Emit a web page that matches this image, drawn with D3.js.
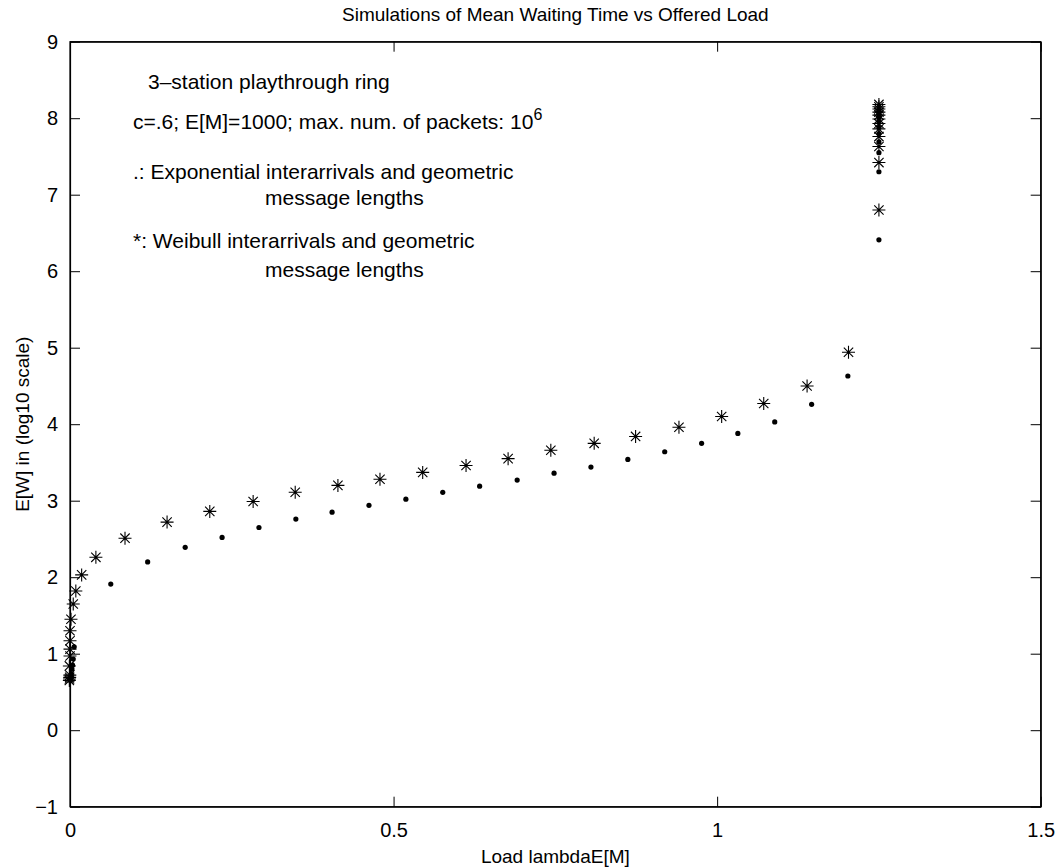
<!DOCTYPE html>
<html>
<head>
<meta charset="utf-8">
<script src="https://cdn.jsdelivr.net/npm/d3@7"></script>
<style>
  body { margin: 0; background: #fff; }
  text { font-family: Helvetica, Arial, "Liberation Sans", sans-serif; fill: #000; }
</style>
</head>
<body>
<script>
// chart size
var width = 1063;
var height = 867;
var margin = {top: 41.7, right: 22.3, bottom: 60.3, left: 70};

// exponential interarrivals (dots)
var expLoad = [0.0005, 0.001, 0.0015, 0.002, 0.003, 0.004, 0.005, 0.0065,
  0.063, 0.120, 0.178, 0.235, 0.292, 0.349, 0.405, 0.462, 0.519, 0.576, 0.633,
  0.691, 0.748, 0.805, 0.862, 0.919, 0.976, 1.032, 1.089, 1.146, 1.202,
  1.25, 1.25, 1.25, 1.25, 1.25, 1.25, 1.25, 1.25, 1.25, 1.25];
var expWait = [0.65, 0.67, 0.70, 0.74, 0.80, 0.85, 0.93, 1.09,
  1.91, 2.20, 2.39, 2.52, 2.65, 2.76, 2.85, 2.94, 3.02, 3.11, 3.19,
  3.27, 3.36, 3.44, 3.54, 3.64, 3.75, 3.88, 4.03, 4.26, 4.63,
  6.41, 7.30, 7.55, 7.69, 7.80, 7.88, 7.95, 8.01, 8.06, 8.10];

// weibull interarrivals (stars)
var weiLoad = [-0.001, -0.0008, -0.0005, -0.0003, -0.001, 0, 0, 0,
  0, 0.0015, 0.005, 0.009, 0.018,
  0.040, 0.085, 0.150, 0.216, 0.283, 0.348, 0.414, 0.479, 0.545, 0.612,
  0.677, 0.743, 0.810, 0.874, 0.941, 1.007, 1.072, 1.139, 1.203,
  1.25, 1.25, 1.25, 1.25, 1.25, 1.25, 1.25, 1.25, 1.25, 1.25, 1.25, 1.25];
var weiWait = [0.65, 0.67, 0.69, 0.72, 0.84, 0.97, 1.06, 1.17,
  1.30, 1.45, 1.65, 1.82, 2.03,
  2.26, 2.51, 2.72, 2.86, 2.99, 3.11, 3.20, 3.28, 3.37, 3.46,
  3.55, 3.66, 3.75, 3.84, 3.96, 4.10, 4.27, 4.50, 4.94,
  6.80, 7.42, 7.63, 7.76, 7.86, 7.93, 7.99, 8.04, 8.08, 8.12, 8.15, 8.18];

// ticks
var xTicks = [0, 0.5, 1, 1.5];
var yTicks = [-1, 0, 1, 2, 3, 4, 5, 6, 7, 8, 9];

var titleText = "Simulations of Mean Waiting Time vs Offered Load";
var xLabel = "Load lambdaE[M]";
var yLabel = "E[W] in (log10 scale)";

var svg = d3.select("body").append("svg")
  .attr("width", width)
  .attr("height", height);

var x = d3.scaleLinear().domain([0, 1.5]).range([margin.left, width - margin.right]);
var y = d3.scaleLinear().domain([-1, 9]).range([height - margin.bottom, margin.top]);

var fmt = function(d) { return d === -1 ? "\u22121" : String(d); };

// axes, ticks inward on all four sides
svg.append("g")
  .attr("transform", "translate(0," + y(-1) + ")")
  .call(d3.axisBottom(x).tickValues(xTicks).tickSizeInner(-10).tickSizeOuter(0).tickPadding(16).tickFormat(fmt));
svg.append("g")
  .attr("transform", "translate(0," + y(9) + ")")
  .call(d3.axisTop(x).tickValues(xTicks).tickSizeInner(-10).tickSizeOuter(0).tickFormat(""));
svg.append("g")
  .attr("transform", "translate(" + x(0) + ",0)")
  .call(d3.axisLeft(y).tickValues(yTicks).tickSizeInner(-10).tickSizeOuter(0).tickPadding(12).tickFormat(fmt));
svg.append("g")
  .attr("transform", "translate(" + x(1.5) + ",0)")
  .call(d3.axisRight(y).tickValues(yTicks).tickSizeInner(-10).tickSizeOuter(0).tickFormat(""));

svg.selectAll(".domain").attr("stroke", "#000").attr("stroke-width", 1.2);
svg.selectAll(".tick line").attr("stroke", "#000");
svg.selectAll(".tick text").style("font-size", "20px").style("font-family", "Helvetica, Arial, 'Liberation Sans', sans-serif");

// box outline
svg.append("rect")
  .attr("x", x(0)).attr("y", y(9))
  .attr("width", x(1.5) - x(0)).attr("height", y(-1) - y(9))
  .attr("fill", "none").attr("stroke", "#000").attr("stroke-width", 1.2);

// dots
svg.append("g").selectAll("circle")
  .data(d3.range(expLoad.length))
  .enter().append("circle")
  .attr("cx", function(i) { return x(expLoad[i]); })
  .attr("cy", function(i) { return y(expWait[i]); })
  .attr("r", 2.6)
  .attr("fill", "#000");

// stars
var s = 6.5, d = s * 0.72;
var starPath = "M" + (-s) + ",0L" + s + ",0M0," + (-s) + "L0," + s +
  "M" + (-d) + "," + (-d) + "L" + d + "," + d + "M" + (-d) + "," + d + "L" + d + "," + (-d);
svg.append("g").selectAll("path")
  .data(d3.range(weiLoad.length))
  .enter().append("path")
  .attr("transform", function(i) { return "translate(" + x(weiLoad[i]) + "," + y(weiWait[i]) + ")"; })
  .attr("d", starPath)
  .attr("fill", "none")
  .attr("stroke", "#000")
  .attr("stroke-width", 1.1);

// title and axis labels
svg.append("text")
  .attr("x", (x(0) + x(1.5)) / 2).attr("y", 21)
  .attr("text-anchor", "middle").style("font-size", "19px")
  .text(titleText);
svg.append("text")
  .attr("x", (x(0) + x(1.5)) / 2).attr("y", 863)
  .attr("text-anchor", "middle").style("font-size", "19px")
  .text(xLabel);
svg.append("text")
  .attr("transform", "translate(29," + (y(4)) + ") rotate(-90)")
  .attr("text-anchor", "middle").style("font-size", "19px")
  .text(yLabel);

// annotations
var notes = svg.append("g").style("font-size", "21px");
notes.append("text").attr("x", 148).attr("y", 89).text("3\u2013station playthrough ring");
var n2 = notes.append("text").attr("x", 133).attr("y", 129);
n2.append("tspan").text("c=.6; E[M]=1000; max. num. of packets: 10");
n2.append("tspan").attr("dy", -9).attr("dx", 0).style("font-size", "16px").text("6");
notes.append("text").attr("x", 133).attr("y", 179).text(".: Exponential interarrivals and geometric");
notes.append("text").attr("x", 265).attr("y", 205).text("message lengths");
notes.append("text").attr("x", 133).attr("y", 248).text("*: Weibull interarrivals and geometric");
notes.append("text").attr("x", 265).attr("y", 277).text("message lengths");
</script>
</body>
</html>
